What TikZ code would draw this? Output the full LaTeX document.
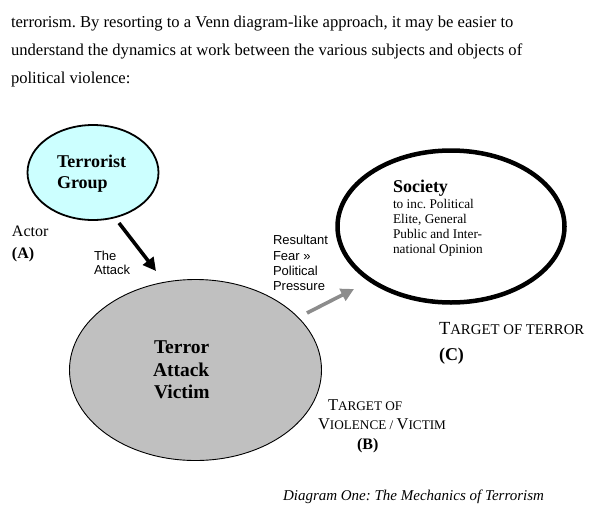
\documentclass[tikz,border=0pt]{standalone}
\usepackage{fontspec}
\setmainfont{Liberation Serif}
\newfontfamily\arialf{Liberation Sans}
\usetikzlibrary{shapes.geometric,arrows.meta}
\frenchspacing
\definecolor{tgcyan}{HTML}{CCFFFF}
\definecolor{vgray}{HTML}{C0C0C0}
\definecolor{agray}{HTML}{8C8C8C}
\newcommand\fsz[1]{\fontsize{#1}{#1}\selectfont}
\newcommand\scC[1]{{\fsz{14.8}#1}}
\newcommand\scB[1]{{\fsz{13.2}#1}}
\tikzset{
  x=1pt, y=-1pt,
  txt/.style={anchor=base west, inner sep=0pt, outer sep=0pt},
  body/.style={txt, font=\fsz{16.6}},
  sans/.style={txt, font=\arialf\fsz{13}},
  circ/.style={ellipse, draw=black, inner sep=0pt},
  bigarrow/.style={line width=3.6pt, -{Triangle[length=13pt,width=13pt]}},
}
\begin{document}
\begin{tikzpicture}
\useasboundingbox (0,0) rectangle (607,517);
% body text
\node[body] (l1) at (11,27) {terrorism. By resorting to a Venn diagram-like approach, it may be easier to};
\node[body] (l2) at (11,55) {understand the dynamics at work between the various subjects and objects of};
\node[body] (l3) at (11,83) {political violence:};
% ellipses
\node[circ, fill=tgcyan, line width=1.8pt, minimum width=131pt, minimum height=95pt] (tg) at (93,172.5) {};
\node[circ, fill=vgray, line width=0.9pt, minimum width=252pt, minimum height=181pt] (vic) at (195.5,370) {};
\node[circ, line width=4.5pt, minimum width=227pt, minimum height=152pt] (soc) at (451,226.5) {};
% texts in ellipses
\node[txt, font=\bfseries\fsz{18}] (tg1) at (57,167) {Terrorist};
\node[txt, font=\bfseries\fsz{18}] (tg2) at (57,188) {Group};
\node[txt, font=\bfseries\fsz{19.5}] (v1) at (154,353) {Terror};
\node[txt, font=\bfseries\fsz{19.5}] (v2) at (153,376) {Attack};
\node[txt, font=\bfseries\fsz{19.5}] (v3) at (154,398) {Victim};
\node[txt, font=\bfseries\fsz{18}] (s0) at (393,192) {Society};
\node[txt, font=\fsz{13.3}] (s1) at (393,208) {to inc. Political};
\node[txt, font=\fsz{13.3}] (s2) at (393,223) {Elite, General};
\node[txt, font=\fsz{13.3}] (s3) at (393,238) {Public and Inter-};
\node[txt, font=\fsz{13.3}] (s4) at (393,253) {national Opinion};
% side labels
\node[txt, font=\fsz{16}] (a1) at (12,236) {Actor};
\node[txt, font=\bfseries\fsz{16}] (a2) at (12,258) {(A)};
\node[sans] (at1) at (94,260) {The};
\node[sans] (at2) at (94,274) {Attack};
\node[sans] (r1) at (273,244) {Resultant};
\node[sans] (r2) at (273,260) {Fear »};
\node[sans] (r3) at (273,275) {Political};
\node[sans] (r4) at (273,290) {Pressure};
\node[txt, font=\fsz{18.5}] (c1) at (439,334) {T\scC{ARGET OF TERROR}};
\node[txt, font=\bfseries\fsz{18}] (c2) at (439,360) {(C)};
\node[txt, font=\fsz{16.5}] (b1) at (328,410) {T\scB{ARGET OF}};
\node[txt, font=\fsz{16.5}] (b2) at (318,429) {V\scB{IOLENCE / }V\scB{ICTIM}};
\node[txt, font=\bfseries\fsz{16}] (b3) at (357,449) {(B)};
\node[txt, font=\itshape\fsz{15}] (cap) at (283,500) {Diagram One: The Mechanics of Terrorism};
% arrows
\coordinate (ka) at (119,223);
\coordinate (kb) at (156,271);
\coordinate (ga) at (307,313);
\coordinate (gb) at (354,289);
\draw[bigarrow, black] (ka) -- (kb);
\draw[bigarrow, agray] (ga) -- (gb);
\end{tikzpicture}
\end{document}
